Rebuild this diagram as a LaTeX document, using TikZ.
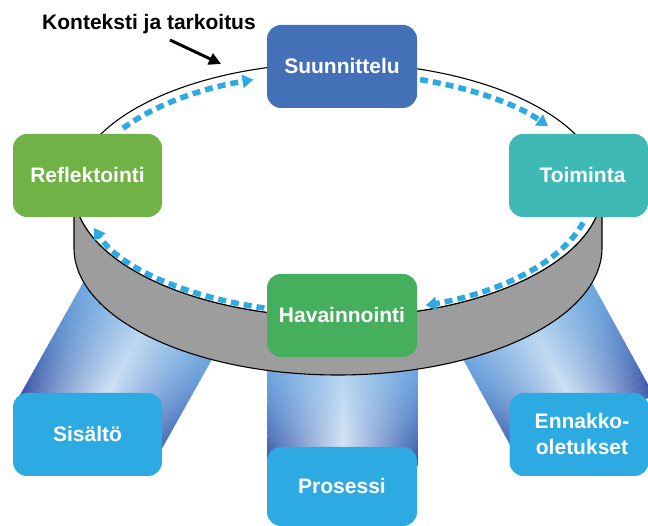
\documentclass[tikz,border=0pt]{standalone}
\usepackage{fontspec}
\setmainfont{Liberation Sans}
\usetikzlibrary{arrows.meta}

\definecolor{planblue}{HTML}{4470B8}
\definecolor{actteal}{HTML}{3FB9B5}
\definecolor{reflgreen}{HTML}{70B245}
\definecolor{obsgreen}{HTML}{46AF5E}
\definecolor{skyblue}{HTML}{2DAAE1}
\definecolor{flowblue}{HTML}{2DAAE1}
\definecolor{bandgray}{HTML}{9D9D9D}
\definecolor{pillarbotedge}{HTML}{3B52A3}
\definecolor{pillartopedge}{HTML}{72AEE4}
\definecolor{pillarbotcore}{HTML}{DCE7F7}
\definecolor{pillartopcore}{HTML}{A6CCEE}

% a tilted cylinder built from thin bands: #1,#2 base centre, #3 rotation, #4 length
\newcommand\drawpillar[4]{%
  \begin{scope}[transform canvas={shift={(#1,#2)},rotate=#3}]
    \foreach \i in {0,...,23}{
      \pgfmathsetmacro\s{\i/23}
      \pgfmathsetmacro\pe{100*(1-(1-\s)^2)}
      \pgfmathsetmacro\pc{100*\s}
      \colorlet{pedge}{pillartopedge!\pe!pillarbotedge}
      \colorlet{pcore}{pillartopcore!\pc!pillarbotcore}
      \shade[left color=pedge, right color=pedge, middle color=pcore]
        (-75,{#4*\i/24}) rectangle (75,{#4*(\i+1)/24+0.8});
    }
  \end{scope}}

\begin{document}
\begin{tikzpicture}[x=1pt,y=1pt,
  box/.style={rounded corners=14pt, minimum width=149pt, minimum height=83pt,
    inner sep=0pt, text=white, align=center,
    font=\fontsize{21}{26}\selectfont\bfseries},
  flow/.style={draw=flowblue, line width=5.5pt, dash pattern=on 8pt off 5pt,
    -{Triangle[length=11pt,width=13pt]}},
  pointer/.style={draw=black, line width=3pt, -{Triangle[length=12pt,width=12pt]}},
  rim/.style={draw=black, line width=1.1pt}]

\useasboundingbox (0,0) rectangle (648,526);

% supporting pillars
\drawpillar{83}{90}{-29.3}{195}
\drawpillar{342.5}{60}{0}{140}
\drawpillar{588}{95}{28.8}{176}

% the disk: side band, then top face
\path[rim, fill=bandgray] (74,336) -- (74,278)
  arc[start angle=180, end angle=360, x radius=264, y radius=127]
  -- (602,336)
  arc[start angle=0, end angle=-180, x radius=264, y radius=127] -- cycle;
\path[rim, fill=white] (338,336) ellipse[x radius=264, y radius=127];

% cycle arrows around the rim
\coordinate (f1) at (123.0,397.7);
\coordinate (f2) at (420.1,446.4);
\coordinate (f3) at (583.1,303.4);
\coordinate (f4) at (264.4,218.0);
\draw[flow] (f1) arc[start angle=147.4, end angle=109.2, x radius=254, y radius=120];
\draw[flow] (f2) arc[start angle=70.9, end angle=33.8, x radius=254, y radius=120];
\draw[flow] (f3) arc[start angle=-14.3, end angle=-69.6, x radius=254, y radius=120];
\draw[flow] (f4) arc[start angle=-106.6, end angle=-163.1, x radius=254, y radius=120];

% phases of the cycle
\node[box, fill=planblue, minimum width=150pt] (plan) at (342,459.5) {Suunnittelu};
\node[box, fill=actteal, minimum width=139pt] (act) at (578.5,350.5) {\hspace*{8pt}Toiminta};
\node[box, fill=reflgreen] (refl) at (87.5,350.5) {Reflektointi};
\node[box, fill=obsgreen, minimum width=150pt] (obs) at (342,210.5) {Havainnointi};

% reflection targets
\node[box, fill=skyblue] (content) at (87.5,91.5) {Sisältö};
\node[box, fill=skyblue, minimum width=150pt, minimum height=79pt] (process) at (342,39.5) {Prosessi};
\node[box, fill=skyblue, minimum width=139pt] (premise) at (579,91.5) {\hspace*{6pt}Ennakko-\\\hspace*{6pt}oletukset};

% context label
\node[font=\fontsize{21}{26}\selectfont\bfseries, inner sep=0pt] (ctx) at (149,502) {Konteksti ja tarkoitus};
\coordinate (ctxfrom) at (170,486);
\coordinate (ctxto) at (221,462);
\draw[pointer] (ctxfrom) -- (ctxto);

\end{tikzpicture}
\end{document}
